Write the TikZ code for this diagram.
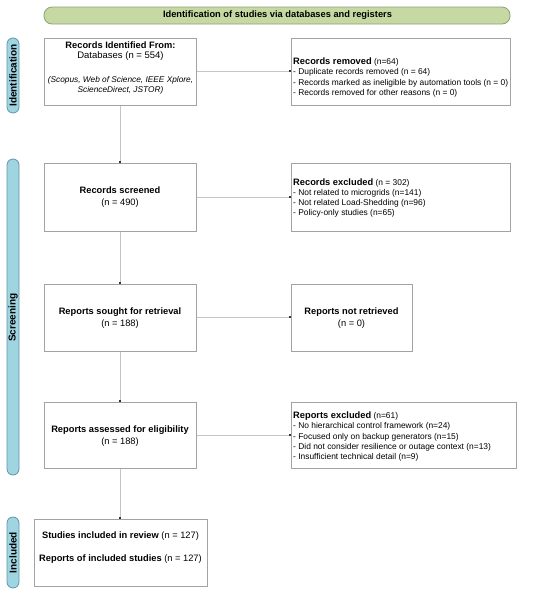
\documentclass[tikz,border=0pt]{standalone}
\usepackage{fontspec}
\setmainfont{Liberation Sans}
\usetikzlibrary{arrows.meta,positioning}
\definecolor{hdrfill}{HTML}{C6D9A2}
\definecolor{hdrdraw}{HTML}{8FA07A}
\definecolor{sidefill}{HTML}{9FD4E1}
\definecolor{sidedraw}{HTML}{5F95A6}
\definecolor{boxdraw}{HTML}{A3A3A3}
\definecolor{linecol}{HTML}{C4C4C4}
\definecolor{tipcol}{HTML}{333333}
\newcommand{\ttl}[1]{{\fontsize{9.3}{10.3}\selectfont\bfseries #1}}
\tikzset{
  fbox/.style={draw=boxdraw, line width=0.8pt, fill=white},
  txt/.style={font=\fontsize{9.3}{12}\selectfont, inner sep=0pt, align=center},
  ltxt/.style={font=\fontsize{8.4}{10.3}\selectfont, inner sep=0pt, align=left},
  side/.style={draw=sidedraw, fill=sidefill, line width=0.8pt, rounded corners=6pt},
  sidetxt/.style={font=\bfseries\fontsize{10}{10}\selectfont, rotate=90, inner sep=0pt},
  conn/.style={draw=linecol, line width=0.7pt, -{Square[length=2pt,width=2pt,color=tipcol,fill=tipcol]}},
}
\begin{document}
\begin{tikzpicture}[x=1pt,y=-1pt]
\useasboundingbox (0,0) rectangle (550,595);
% header
\draw[draw=hdrdraw, fill=hdrfill, line width=0.8pt, rounded corners=8pt] (44,7) rectangle (510,24);
\node[txt, font=\bfseries\fontsize{9.3}{10}\selectfont] (hdr) at (277.5,15.5) {Identification of studies via databases and registers};
% side labels
\draw[side] (7,38) rectangle (19,113);
\node[sidetxt] (sid) at (13,75.5) {Identification};
\draw[side] (7,159) rectangle (19,475);
\node[sidetxt] (ssc) at (13,317.5) {Screening};
\draw[side] (7,517) rectangle (19,588);
\node[sidetxt] (sin) at (13,552.5) {Included};
% boxes
\draw[fbox] (44,38) rectangle (196,105);
\node[txt] (t1a) at (120.5,45) {\ttl{Records Identified From:}};
\node[txt, font=\fontsize{9.5}{11}\selectfont] (t1) at (120.5,56.5) {Databases (n = 554)};
\node[txt, font=\itshape\fontsize{8.3}{10.3}\selectfont] (t1b) at (120.5,85.5) {(Scopus, Web of Science, IEEE Xplore,\\ScienceDirect, JSTOR)};
\draw[fbox] (291,38) rectangle (510,105);
\node[ltxt, anchor=west] (t2) at (293,77.5) {\ttl{Records removed} (n=64)\\- Duplicate records removed (n = 64)\\- Records marked as ineligible by automation tools (n = 0)\\- Records removed for other reasons (n = 0)};

\draw[fbox] (44,163) rectangle (196,231);
\node[txt] (t3) at (120,197.5) {\textbf{Records screened}\\(n = 490)};
\draw[fbox] (291,163) rectangle (510,231);
\node[ltxt, anchor=west] (t4) at (293,198) {\ttl{Records excluded} (n = 302)\\- Not related to microgrids (n=141)\\- Not related Load-Shedding (n=96)\\- Policy-only studies (n=65)};

\draw[fbox] (44,284) rectangle (196,351);
\node[txt] (t5) at (120,318) {\textbf{Reports sought for retrieval}\\(n = 188)};
\draw[fbox] (291,284) rectangle (412,351);
\node[txt] (t6) at (351.5,318) {\textbf{Reports not retrieved}\\(n = 0)};

\draw[fbox] (44,402) rectangle (196,468);
\node[txt] (t7) at (120,436.5) {\textbf{Reports assessed for eligibility}\\(n = 188)};
\draw[fbox] (291,402) rectangle (516,468);
\node[ltxt, anchor=west] (t8) at (293,436.5) {\ttl{Reports excluded} (n=61)\\- No hierarchical control framework (n=24)\\- Focused only on backup generators (n=15)\\- Did not consider resilience or outage context (n=13)\\- Insufficient technical detail (n=9)};

\draw[fbox] (34,519) rectangle (207,586);
\node[txt] (t9) at (120.5,548) {\textbf{Studies included in review} (n = 127)\\[11pt]\textbf{Reports of included studies} (n = 127)};

% connectors
\coordinate (a1s) at (197,71);
\coordinate (a1e) at (290.5,71);
\draw[conn] (a1s) -- (a1e);
\coordinate (v1s) at (120,105.5);
\coordinate (v1e) at (120,162.5);
\draw[conn] (v1s) -- (v1e);
\coordinate (a2s) at (197,197);
\coordinate (a2e) at (290.5,197);
\draw[conn] (a2s) -- (a2e);
\coordinate (v2s) at (120,231.5);
\coordinate (v2e) at (120,283.5);
\draw[conn] (v2s) -- (v2e);
\coordinate (a3s) at (197,317);
\coordinate (a3e) at (290.5,317);
\draw[conn] (a3s) -- (a3e);
\coordinate (v3s) at (120,351.5);
\coordinate (v3e) at (120,401.5);
\draw[conn] (v3s) -- (v3e);
\coordinate (a4s) at (197,435);
\coordinate (a4e) at (290.5,435);
\draw[conn] (a4s) -- (a4e);
\coordinate (v4s) at (120,468.5);
\coordinate (v4e) at (120,518.5);
\draw[conn] (v4s) -- (v4e);
\end{tikzpicture}
\end{document}
